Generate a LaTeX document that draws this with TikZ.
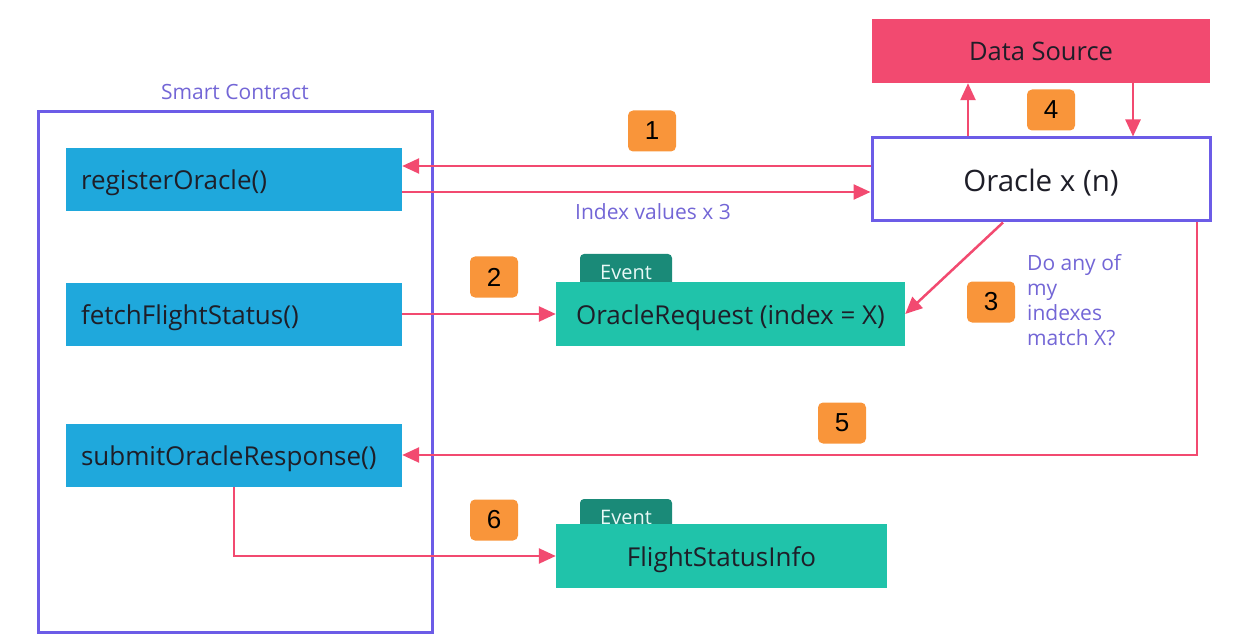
\documentclass[tikz,border=0pt]{standalone}
\usepackage{fontspec}
\setmainfont{Open Sans}
\newfontfamily\badgefont{Liberation Sans}
\usetikzlibrary{arrows.meta}
\definecolor{cblue}{RGB}{31,168,220}
\definecolor{cteal}{RGB}{32,195,170}
\definecolor{ctab}{RGB}{26,138,120}
\definecolor{cpink}{RGB}{242,74,112}
\definecolor{cpurple}{RGB}{108,92,231}
\definecolor{cptext}{RGB}{115,102,214}
\definecolor{corange}{RGB}{249,149,58}
\definecolor{ctext}{RGB}{30,30,40}
\tikzset{
  boxtext/.style={text height=20pt, text depth=0pt},
  bluebox/.style={fill=cblue, text=ctext, minimum height=63pt, text width=306pt, inner xsep=15pt, inner ysep=0pt, align=left, font=\fontsize{26}{30}\selectfont, boxtext},
  tealbox/.style={fill=cteal, text=ctext, minimum height=64pt, inner sep=0pt, font=\fontsize{26}{30}\selectfont, boxtext},
  tabbox/.style={fill=ctab, text=white!90!cteal, rounded corners=4pt, minimum width=92pt, minimum height=36pt, inner sep=0pt, font=\fontsize{20}{24}\selectfont},
  badge/.style={fill=corange, text=black, rounded corners=5pt, minimum width=48pt, minimum height=41pt, inner sep=0pt, font=\badgefont\fontsize{26}{30}\selectfont},
  arr/.style={draw=cpink, line width=2.5pt, -{Triangle[length=17pt,width=15pt]}},
  ptext/.style={text=cptext, inner sep=0pt, font=\fontsize{21}{25}\selectfont},
}
\begin{document}
\begin{tikzpicture}[x=1pt,y=-1pt]
\useasboundingbox (0,0) rectangle (1244,644);
% Smart contract container
\node[draw=cpurple, line width=3pt, minimum width=394pt, minimum height=520pt, inner sep=0pt] (sc) at (235,372) {};
\node[ptext] (sclabel) at (235,92) {Smart Contract};
% function boxes
\node[bluebox] (reg) at (234,179.5) {registerOracle()};
\node[bluebox] (fetch) at (234,314) {fetchFlightStatus()};
\node[bluebox] (sub) at (234,455) {submitOracleResponse()};
% data source and oracle
\node[fill=cpink, text=ctext, minimum width=338pt, minimum height=64pt, inner sep=0pt, font=\fontsize{25.5}{30}\selectfont, text height=19.5pt, text depth=0pt] (ds) at (1041,51) {Data Source};
\node[draw=cpurple, fill=white, line width=3pt, minimum width=338pt, minimum height=83pt, inner sep=0pt, text=ctext, font=\fontsize{29.5}{34}\selectfont, text height=24pt, text depth=0pt] (orc) at (1041,179.5) {Oracle x (n)};
% events
\node[tabbox] (tab1) at (626,272) {Event};
\node[tealbox, minimum width=349pt] (req) at (730.5,314) {OracleRequest (index = X)};
\node[tabbox] (tab2) at (626,517) {Event};
\node[tealbox, minimum width=331pt] (fsi) at (721.5,556) {FlightStatusInfo};
% badges
\node[badge] (b1) at (652,131) {1};
\node[badge] (b2) at (494,277) {2};
\node[badge] (b3) at (991,302) {3};
\node[badge] (b4) at (1051,110) {4};
\node[badge] (b5) at (842,423) {5};
\node[badge] (b6) at (494,520) {6};
% labels
\node[ptext] (idx) at (653,212) {Index values x 3};
\node[ptext, anchor=north west, align=left, font=\fontsize{21}{25}\selectfont] (q) at (1027,254) {Do any of\\my\\indexes\\match X?};
% connectors
\draw[arr] ([yshift=13.5pt]orc.west) -- ([yshift=13.5pt]orc.west -| reg.east);
\draw[arr] ([yshift=-12.5pt]reg.east) -- ([yshift=-12.5pt]reg.east -| orc.west);
\draw[arr] ([xshift=-73pt]orc.north) -- ([xshift=-73pt]ds.south);
\draw[arr] ([xshift=92pt]ds.south) -- ([xshift=92pt]orc.north);
\draw[arr] (fetch.east) -- (req.west);
\draw[arr] ([xshift=-38pt]orc.south) -- (req.east);
\draw[arr] ([xshift=156pt]orc.south) |- (sub.east);
\draw[arr] (sub.south) |- (fsi.west);
\end{tikzpicture}
\end{document}
